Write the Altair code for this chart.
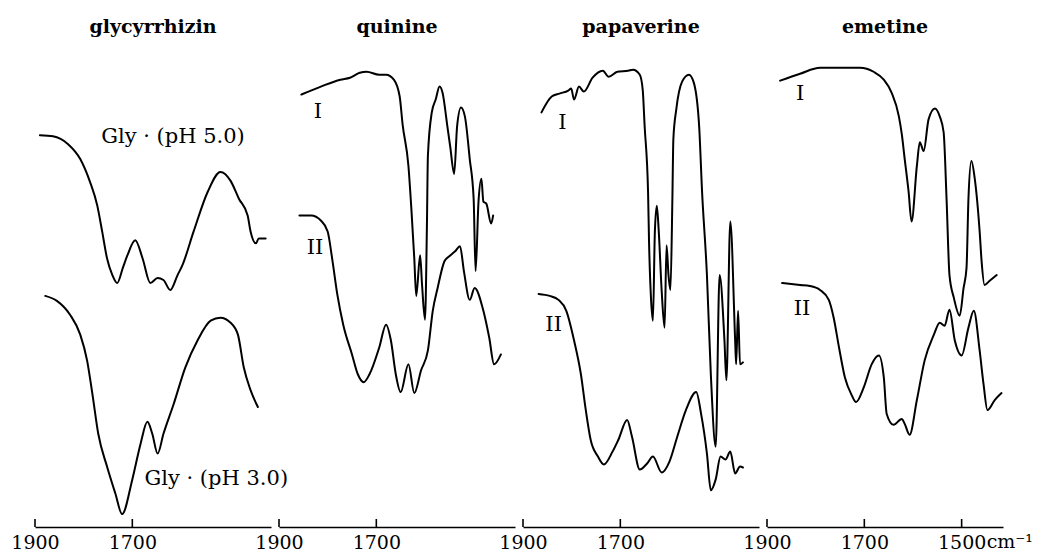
import altair as alt
import pandas as pd

FONT = "DejaVu Serif"

# ---- data (wavenumber in cm-1, transmittance in arbitrary units) ----
panels = ["glycyrrhizin", "quinine", "papaverine", "emetine"]

gly5_wn = [1890, 1863, 1832, 1807, 1787, 1772, 1762, 1752, 1741, 1731, 1719, 1710, 1694, 1679, 1663,
           1648, 1636, 1622, 1607, 1597, 1574, 1545, 1519, 1498, 1481, 1463, 1457, 1446, 1440, 1426]
gly5_T = [395, 394, 386, 371, 348, 324, 298, 271, 254, 246, 262, 274, 289, 271, 246,
          251, 249, 239, 254, 264, 298, 338, 358, 349, 331, 314, 298, 286, 291, 291]

gly3_wn = [1879, 1855, 1828, 1807, 1793, 1782, 1770, 1752, 1735, 1721, 1700, 1683, 1669, 1659, 1648,
           1636, 1615, 1591, 1566, 1539, 1519, 1498, 1483, 1471, 1457, 1442]
gly3_T = [233, 228, 214, 194, 168, 134, 94, 61, 34, 13, 48, 84, 106, 94, 74,
          94, 124, 161, 188, 208, 211, 206, 194, 161, 138, 121]

quiI_wn = [1854, 1814, 1774, 1754, 1734, 1720, 1694, 1680, 1664, 1652, 1646, 1634, 1628, 1622, 1618,
           1610, 1606, 1600, 1596, 1594, 1586, 1578, 1570, 1564, 1554, 1548, 1540, 1534, 1526, 1518,
           1508, 1500, 1496, 1490, 1484, 1480, 1474, 1464, 1460]
quiI_T = [436, 444, 451, 453, 458, 459, 456, 456, 451, 434, 406, 364, 321, 271, 233,
          274, 244, 209, 304, 374, 418, 431, 444, 438, 404, 383, 356, 404, 423, 414,
          371, 331, 258, 328, 351, 328, 326, 306, 314]

quiII_wn = [1858, 1834, 1814, 1800, 1790, 1780, 1768, 1750, 1738, 1726, 1714, 1694, 1680, 1670, 1660,
            1650, 1634, 1622, 1608, 1594, 1584, 1574, 1560, 1550, 1538, 1528, 1520, 1508, 1498, 1480,
            1468, 1458, 1444]
quiII_T = [314, 314, 309, 298, 268, 234, 204, 174, 154, 146, 154, 181, 204, 188, 154,
           136, 164, 135, 158, 178, 218, 241, 268, 273, 278, 283, 258, 229, 241, 218,
           191, 164, 174]

papI_wn = [1862, 1841, 1825, 1807, 1801, 1795, 1785, 1775, 1757, 1736, 1724, 1706, 1684, 1674, 1660,
           1654, 1650, 1643, 1641, 1637, 1633, 1629, 1625, 1621, 1615, 1609, 1605, 1601, 1597, 1593,
           1591, 1585, 1573, 1559, 1549, 1538, 1532, 1522, 1514, 1504, 1496, 1486, 1482, 1474, 1464,
           1462, 1458, 1454, 1448]
papI_T = [418, 434, 437, 440, 442, 431, 444, 439, 453, 460, 454, 459, 460, 461, 456,
          441, 404, 338, 288, 231, 208, 298, 324, 298, 238, 201, 284, 254, 239, 331,
          391, 421, 449, 456, 448, 404, 338, 254, 154, 81, 254, 188, 148, 308, 188,
          164, 218, 164, 166]

papII_wn = [1868, 1845, 1827, 1811, 1795, 1781, 1771, 1761, 1746, 1734, 1716, 1704, 1686, 1676, 1660,
            1645, 1633, 1615, 1599, 1583, 1565, 1544, 1534, 1522, 1514, 1504, 1494, 1484, 1474, 1464,
            1454, 1448]
papII_T = [235, 233, 229, 218, 188, 154, 118, 88, 71, 63, 76, 88, 108, 91, 58,
           64, 71, 55, 66, 91, 118, 136, 114, 74, 37, 48, 71, 68, 76, 54,
           61, 60]

emeI_wn = [1873, 1832, 1791, 1742, 1709, 1681, 1660, 1644, 1629, 1623, 1617, 1609, 1603, 1592, 1586,
           1578, 1568, 1555, 1545, 1537, 1531, 1525, 1516, 1504, 1496, 1490, 1486, 1480, 1473, 1463,
           1459, 1453, 1443, 1428]
emeI_T = [450, 457, 463, 463, 463, 459, 451, 438, 414, 396, 371, 338, 308, 364, 388,
          379, 411, 422, 414, 398, 331, 254, 231, 213, 241, 261, 331, 369, 351, 298,
          268, 244, 248, 254]

emeII_wn = [1869, 1832, 1812, 1791, 1773, 1763, 1752, 1740, 1726, 1717, 1701, 1685, 1670, 1660, 1654,
            1640, 1623, 1617, 1607, 1592, 1576, 1557, 1545, 1535, 1525, 1514, 1500, 1486, 1475, 1463,
            1455, 1447, 1432, 1418]
emeII_T = [246, 244, 243, 239, 229, 211, 181, 151, 133, 126, 141, 164, 173, 151, 114,
           103, 109, 104, 93, 128, 168, 194, 206, 203, 219, 188, 173, 201, 218, 178,
           144, 118, 128, 135]

# curve labels: (panel, text, wavenumber anchor, transmittance anchor, align)
label_panel = ["glycyrrhizin", "glycyrrhizin", "quinine", "quinine", "papaverine", "papaverine", "emetine", "emetine"]
label_text = ["Gly \u00b7 (pH 5.0)", "Gly \u00b7 (pH 3.0)", "I", "II", "I", "II", "I", "II"]
label_wn = [1764, 1675, 1820, 1826, 1819, 1837, 1832, 1828]
label_T = [393, 48, 418, 281, 407, 204, 437, 220]
label_align = ["left", "left", "center", "center", "center", "center", "center", "center"]

tick_values = {"glycyrrhizin": [1900, 1700], "quinine": [1900, 1700],
               "papaverine": [1900, 1700], "emetine": [1900, 1700, 1500]}

curves = {
    "glycyrrhizin": [("pH 5.0", gly5_wn, gly5_T), ("pH 3.0", gly3_wn, gly3_T)],
    "quinine": [("I", quiI_wn, quiI_T), ("II", quiII_wn, quiII_T)],
    "papaverine": [("I", papI_wn, papI_T), ("II", papII_wn, papII_T)],
    "emetine": [("I", emeI_wn, emeI_T), ("II", emeII_wn, emeII_T)],
}

W, H = 236, 486
XDOM = [1900, 1415]
YDOM = [0, 490]

labels_df = pd.DataFrame({"panel": label_panel, "text": label_text, "wn": label_wn,
                          "T": label_T, "align": label_align})


def make_panel(name):
    rows = []
    for series, wn, T in curves[name]:
        for i, (a, b) in enumerate(zip(wn, T)):
            rows.append({"series": series, "wn": a, "T": b, "idx": i})
    df = pd.DataFrame(rows)
    xs = alt.Scale(domain=XDOM, nice=False, zero=False)
    ys = alt.Scale(domain=YDOM, nice=False, zero=False)
    ticks = tick_values[name]
    xaxis = alt.Axis(values=ticks, format="d", ticks=False, grid=False, title=None,
                     labelFont=FONT, labelFontSize=19, labelColor="black", labelPadding=6,
                     labelFlush=False, domainColor="black", domainWidth=1.6)
    lines = alt.Chart(df).mark_line(color="black", strokeWidth=2, interpolate="monotone",
                                    strokeJoin="round", strokeCap="round").encode(
        x=alt.X("wn:Q", scale=xs, axis=xaxis),
        y=alt.Y("T:Q", scale=ys, axis=None),
        detail="series:N",
        order="idx:Q",
    )
    tdf = pd.DataFrame({"wn": ticks})
    tickmarks = alt.Chart(tdf).mark_rule(color="black", strokeWidth=1.6).encode(
        x=alt.X("wn:Q", scale=xs),
        y=alt.value(H - 8),
        y2=alt.value(H),
    )
    ldf = labels_df[labels_df["panel"] == name]
    layers = [lines, tickmarks]
    for align in ["left", "center"]:
        sub = ldf[ldf["align"] == align]
        if len(sub):
            layers.append(alt.Chart(sub).mark_text(font=FONT, fontSize=21, color="black",
                                                   align=align, baseline="middle").encode(
                x=alt.X("wn:Q", scale=xs), y=alt.Y("T:Q", scale=ys), text="text:N"))
    if name == "emetine":
        layers.append(alt.Chart(pd.DataFrame({"wn": [1500], "text": ["cm\u207b\u00b9"]})).mark_text(
            font=FONT, fontSize=19, color="black", align="left", baseline="top", dx=25, dy=6).encode(
            x=alt.X("wn:Q", scale=xs), y=alt.value(H), text="text:N"))
    return alt.layer(*layers).properties(
        width=W, height=H,
        title=alt.Title(name, font=FONT, fontSize=19, fontWeight="bold", color="black",
                        anchor="middle", offset=4))


chart = alt.hconcat(*[make_panel(p) for p in panels], spacing=8, bounds="flush").properties(
    padding={"left": 2, "top": 10, "right": 5, "bottom": 0},
    background="white",
).configure_view(stroke=None)

chart.save("out.html", embed_options={"renderer": "svg", "actions": False})
